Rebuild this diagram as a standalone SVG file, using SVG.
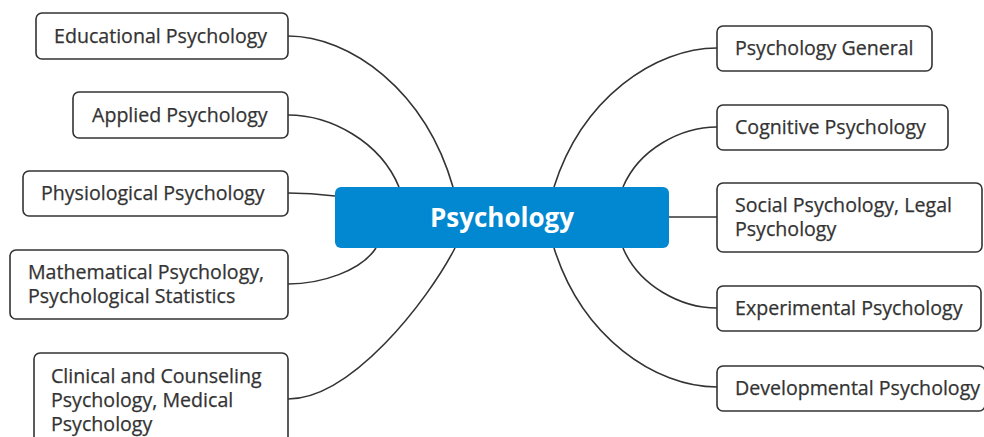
<svg xmlns="http://www.w3.org/2000/svg" width="984" height="437" viewBox="0 0 984 437">
<style>
.box{fill:#ffffff;stroke:#333333;stroke-width:1.6}
.t{font-family:"Open Sans","Liberation Sans",sans-serif;font-size:19.6px;fill:#333333;stroke:#333333;stroke-width:0.25}
.c{fill:none;stroke:#333333;stroke-width:1.6}
.main{fill:#0288d1}
.mt{font-family:"Open Sans","Liberation Sans",sans-serif;font-size:26px;font-weight:bold;fill:#ffffff}
</style>
<rect width="984" height="437" fill="#ffffff"/>
<g id="connectors">
<path class="c" d="M288,36 C350,36 425,90 453,187"/>
<path class="c" d="M288,115 C330,115 380,141 399,187"/>
<path class="c" d="M288,193 C306,193 327,195 335,196"/>
<path class="c" d="M288,284 C321,284 361,271 376,248"/>
<path class="c" d="M288,399 C351,399 427,302 455,248"/>
<path class="c" d="M717,48 C655,48 582,98 554,187"/>
<path class="c" d="M717,127 C681,127 639,149 623,187"/>
<path class="c" d="M717,217 L669,217"/>
<path class="c" d="M717,308 C681,308 639,286 623,248"/>
<path class="c" d="M717,387 C655,387 582,337 554,248"/>
</g>
<g id="center">
<rect class="main" x="335" y="187" width="334" height="61" rx="6"/>
<text class="mt" x="502" y="227" text-anchor="middle">Psychology</text>
</g>
<g id="educational">
<rect class="box" x="36" y="13" width="252" height="46" rx="6"/>
<text class="t" x="54" y="43">Educational Psychology</text>
</g>
<g id="applied">
<rect class="box" x="73" y="92" width="215" height="46" rx="6"/>
<text class="t" x="92" y="122">Applied Psychology</text>
</g>
<g id="physiological">
<rect class="box" x="23" y="171" width="265" height="45" rx="6"/>
<text class="t" x="41" y="200">Physiological Psychology</text>
</g>
<g id="mathematical">
<rect class="box" x="10" y="250" width="278" height="69" rx="6"/>
<text class="t" x="28" y="279">Mathematical Psychology,<tspan x="28" dy="24">Psychological Statistics</tspan></text>
</g>
<g id="clinical">
<rect class="box" x="34" y="353" width="254" height="100" rx="6"/>
<text class="t" x="51" y="383">Clinical and Counseling<tspan x="51" dy="24">Psychology, Medical</tspan><tspan x="51" dy="24">Psychology</tspan></text>
</g>
<g id="general">
<rect class="box" x="717" y="26" width="215" height="45" rx="6"/>
<text class="t" x="735" y="55">Psychology General</text>
</g>
<g id="cognitive">
<rect class="box" x="717" y="105" width="231" height="45" rx="6"/>
<text class="t" x="735" y="134">Cognitive Psychology</text>
</g>
<g id="social">
<rect class="box" x="717" y="183" width="265" height="69" rx="6"/>
<text class="t" x="735" y="212">Social Psychology, Legal<tspan x="735" dy="24">Psychology</tspan></text>
</g>
<g id="experimental">
<rect class="box" x="717" y="286" width="264" height="45" rx="6"/>
<text class="t" x="735" y="315">Experimental Psychology</text>
</g>
<g id="developmental">
<rect class="box" x="717" y="366" width="268" height="45" rx="6"/>
<text class="t" x="735" y="395">Developmental Psychology</text>
</g>
</svg>
